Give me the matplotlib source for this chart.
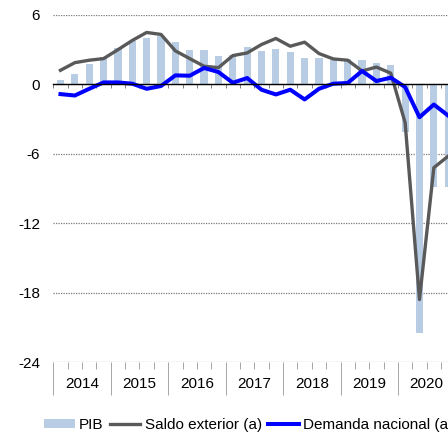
import numpy as np
import matplotlib
matplotlib.use("Agg")
import matplotlib.pyplot as plt

plt.rcParams["font.family"] = ["Liberation Sans", "DejaVu Sans"]
plt.rcParams["axes.unicode_minus"] = False

# ── Data (quarterly, 2014T1 .. 2020T4) ────────────────────────────────────────
years = ["2014", "2015", "2016", "2017", "2018", "2019", "2020"]
quarters = [f"{y}T{q}" for y in years for q in range(1, 5)]

pib = [0.35, 0.93, 1.74, 2.4, 3.16, 3.77, 4.03, 4.17,
       3.65, 3.0, 2.96, 2.46, 2.58, 3.25, 2.9, 3.07,
       2.81, 2.29, 2.32, 2.15, 2.2, 2.09, 1.83, 1.65,
       -4.15, -21.5, -8.9, -8.9]
saldo_exterior = [1.22, 1.88, 2.09, 2.23, 3.0, 3.8, 4.49, 4.32,
                  2.9, 2.23, 1.57, 1.45, 2.49, 2.72, 3.45, 3.97,
                  3.3, 3.65, 2.67, 2.2, 2.09, 1.16, 1.5, 0.97,
                  -3.3, -18.6, -7.2, -6.2]
demanda_nacional = [-0.84, -0.96, -0.38, 0.17, 0.17, 0.06, -0.38, -0.14,
                    0.78, 0.75, 1.42, 1.07, 0.14, 0.55, -0.46, -0.87,
                    -0.46, -1.3, -0.38, 0.06, 0.12, 1.16, 0.29, 0.58,
                    -0.23, -2.84, -1.74, -2.7]

y_ticks = [6, 0, -6, -12, -18, -24]
legend_labels = ["PIB", "Saldo exterior (a)", "Demanda nacional (a)"]

# ── Figure ────────────────────────────────────────────────────────────────────
W, H = 448, 437
fig = plt.figure(figsize=(W / 100, H / 100), dpi=100)
n = len(quarters)
ax = fig.add_axes([53.3 / W, (H - 362) / H, n * 14.36 / W, 347 / H])

x = np.arange(n) + 0.5
bars = ax.bar(x, pib, width=0.5, color="#b8cce4", zorder=2)
l1, = ax.plot(x, saldo_exterior, color="#595959", lw=2.4, zorder=3)
l2, = ax.plot(x, demanda_nacional, color="#0000ff", lw=2.9, zorder=4)

ax.set_xlim(0, n)
ax.set_ylim(-24, 6)
ax.set_yticks(y_ticks, labels=[str(v) for v in y_ticks])
ax.tick_params(axis="y", length=0, pad=9.5, labelsize=11)
ax.yaxis.grid(True, linestyle=(0, (1, 1)), color="#7a7a7a", linewidth=0.9, zorder=0)
ax.set_axisbelow(True)

for side in ["top", "right", "left"]:
    ax.spines[side].set_visible(False)
ax.spines["bottom"].set_position(("data", 0))
ax.spines["bottom"].set_color("black")
ax.spines["bottom"].set_linewidth(1.0)
ax.spines["bottom"].set_zorder(5)

# quarter ticks on the zero line
ax.set_xticks(np.arange(n + 1))
ax.tick_params(axis="x", length=3, width=0.7, color="#7f7f7f", labelbottom=False)

# bottom axis at -24: year separators + quarter ticks
sec = ax.secondary_xaxis(0)
sec.set_xticks(np.arange(0, n + 1, 4), labels=[])
sec.set_xticks(np.arange(n + 1), minor=True)
sec.tick_params(which="major", length=23.5, width=0.7, color="#a6a6a6")
sec.tick_params(which="minor", length=4.7, width=0.7, color="#a6a6a6")
sec.spines["bottom"].set_visible(False)

sec2 = ax.secondary_xaxis(0)
sec2.set_xticks(np.arange(2, n, 4), labels=years)
sec2.tick_params(length=0, pad=11, labelsize=11)
sec2.spines["bottom"].set_visible(False)

fig.legend([bars, l1, l2], legend_labels, loc="center left",
           bbox_to_anchor=(44 / W, 1 - 425 / H), ncol=3, frameon=False,
           borderpad=0, borderaxespad=0, handlelength=2.0, handleheight=0.5,
           handletextpad=0.3, columnspacing=0.4, fontsize=11)

fig.savefig("out.png", dpi=100)
